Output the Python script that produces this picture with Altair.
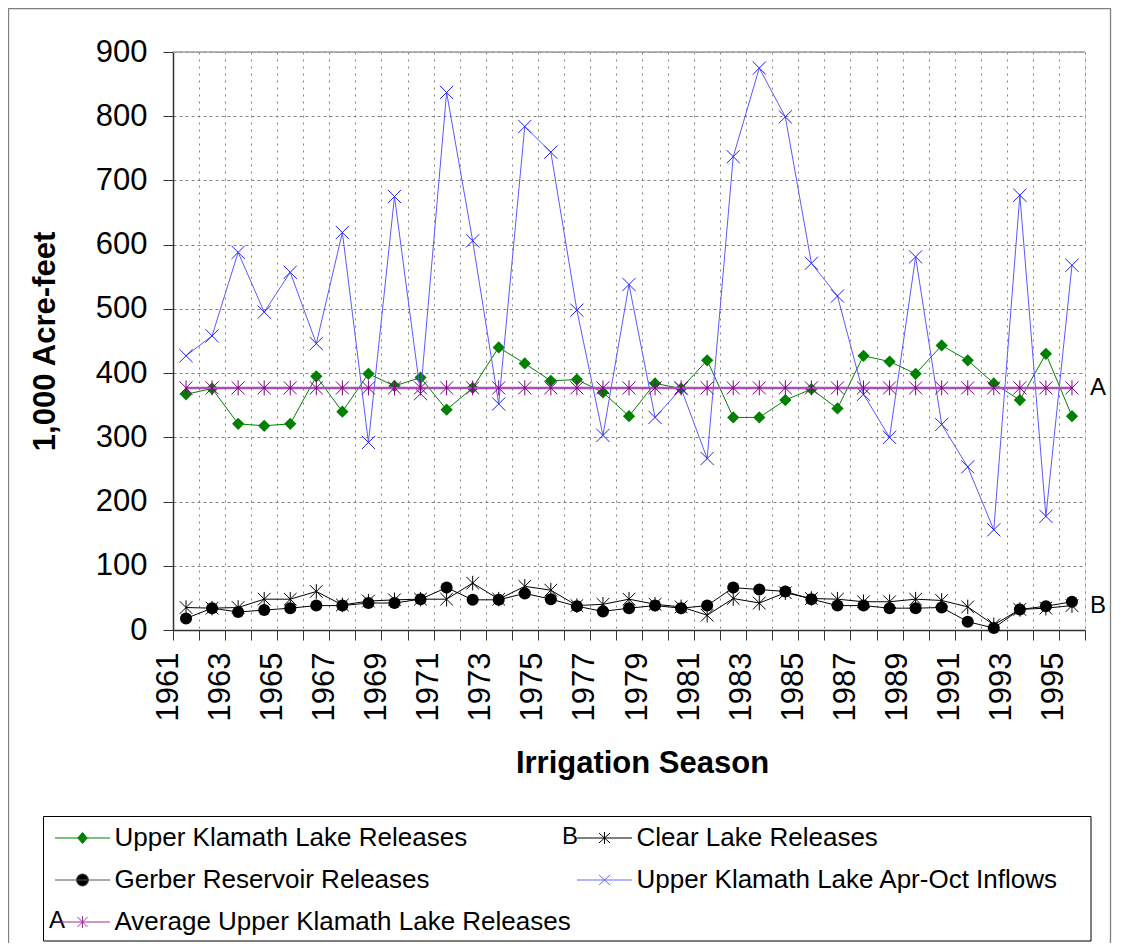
import altair as alt
import pandas as pd

# ---------------- data ----------------
seasons = [1961, 1962, 1963, 1964, 1965, 1966, 1967, 1968, 1969, 1970,
           1971, 1972, 1973, 1974, 1975, 1976, 1977, 1978, 1979, 1980,
           1981, 1982, 1983, 1984, 1985, 1986, 1987, 1988, 1989, 1990,
           1991, 1992, 1993, 1994, 1995]

ukl_releases = [367, 376, 321, 318, 321, 395, 340, 399, 380, 393,
                343, 377, 440, 415, 388, 390, 370, 333, 384, 376,
                420, 331, 331, 358, 375, 345, 427, 418, 399, 443,
                420, 384, 358, 430, 333]

clear_lake = [35, 34, 35, 48, 48, 60, 39, 45, 47, 48,
              48, 73, 48, 68, 62, 38, 40, 48, 40, 36,
              23, 49, 42, 58, 49, 48, 44, 44, 48, 46,
              36, 8, 32, 34, 38]

gerber = [18, 34, 28, 31, 34, 38, 38, 42, 42, 48,
          66, 47, 47, 57, 48, 37, 29, 34, 38, 34,
          38, 66, 63, 60, 48, 38, 38, 34, 34, 35,
          13, 3, 32, 37, 44]

ukl_inflows = [427, 458, 588, 495, 557, 446, 619, 292, 675, 368,
               837, 606, 352, 784, 744, 498, 303, 538, 331, 376,
               267, 737, 875, 799, 571, 520, 367, 300, 581, 320,
               254, 156, 677, 177, 568]

avg_ukl = [377, 377, 377, 377, 377, 377, 377, 377, 377, 377,
           377, 377, 377, 377, 377, 377, 377, 377, 377, 377,
           377, 377, 377, 377, 377, 377, 377, 377, 377, 377,
           377, 377, 377, 377, 377]

series_names = ["Upper Klamath Lake Releases",
                "Clear Lake Releases",
                "Gerber Reservoir Releases",
                "Upper Klamath Lake Apr-Oct Inflows",
                "Average Upper Klamath Lake Releases"]
series_values = [ukl_releases, clear_lake, gerber, ukl_inflows, avg_ukl]
end_tags = {"Clear Lake Releases": "B", "Average Upper Klamath Lake Releases": "A"}

y_ticks = [0, 100, 200, 300, 400, 500, 600, 700, 800, 900]
x_label_years = [1961, 1963, 1965, 1967, 1969, 1971, 1973, 1975, 1977, 1979,
                 1981, 1983, 1985, 1987, 1989, 1991, 1993, 1995]
x_tick_years = list(range(1961, 1997))

rows = []
for name, vals in zip(series_names, series_values):
    for s, v in zip(seasons, vals):
        rows.append({"season": s, "value": v, "series": name,
                     "tag": end_tags.get(name, "")})
df = pd.DataFrame(rows)

# ---------------- styling ----------------
FONT = "Liberation Sans"
W, H = 912, 578

line_color = {"Upper Klamath Lake Releases": "#008000",
              "Clear Lake Releases": "#000000",
              "Gerber Reservoir Releases": "#000000",
              "Upper Klamath Lake Apr-Oct Inflows": "#5a5aff",
              "Average Upper Klamath Lake Releases": "#a850b8"}
line_width = {"Upper Klamath Lake Releases": 1,
              "Clear Lake Releases": 1,
              "Gerber Reservoir Releases": 1,
              "Upper Klamath Lake Apr-Oct Inflows": 1,
              "Average Upper Klamath Lake Releases": 2.5}

X_PATH = "M-1,-1L1,1M-1,1L1,-1"
AST_PATH = "M-1,-1L1,1M-1,1L1,-1M0,-1.15L0,1.15"

marker = {
    "Upper Klamath Lake Releases": dict(shape="diamond", filled=True, color="#008000", size=150),
    "Clear Lake Releases": dict(shape=AST_PATH, filled=False, color="#000000", size=160),
    "Gerber Reservoir Releases": dict(shape="circle", filled=True, color="#000000", size=145),
    "Upper Klamath Lake Apr-Oct Inflows": dict(shape=X_PATH, filled=False, color="#2020ff", size=175),
    "Average Upper Klamath Lake Releases": dict(shape=AST_PATH, filled=False, color="#800080", size=170),
}

legend_paths = [
    "M-2.75,0H2.75M0,-0.55L0.47,0L0,0.55L-0.47,0Z",
    "M-2.75,0H2.75M-0.55,-0.5L0.55,0.5M-0.55,0.5L0.55,-0.5M0,-0.6L0,0.6",
    "M-2.75,0H2.75M-0.6,0A0.6,0.6,0,1,0,0.6,0A0.6,0.6,0,1,0,-0.6,0Z",
    "M-2.75,0H2.75M-0.55,-0.5L0.55,0.5M-0.55,0.5L0.55,-0.5",
    "M-2.75,0H2.75M-0.5,-0.5L0.5,0.5M-0.5,0.5L0.5,-0.5M0,-0.6L0,0.6",
]
legend_fill = ["#008000", "#000000", "#000000", "#2020ff", "#800080"]
legend_stroke = ["#008000", "#000000", "#555555", "#6666ff", "#993399"]

x_scale = alt.Scale(domain=[1961, 1996], nice=False, zero=False)
y_scale = alt.Scale(domain=[0, 900], nice=False, zero=True)

label_expr = "indexof(" + str(x_label_years) + ", datum.value) >= 0 ? '' + datum.value : ''"

x_axis = alt.Axis(values=x_tick_years, labelExpr=label_expr,
                  title="Irrigation Season", titleFont=FONT, titleFontSize=31,
                  titleFontWeight="bold", titleColor="black",
                  titleX=469, titleY=133, titleAlign="center", titleBaseline="middle",
                  titleAngle=0,
                  labelAngle=270, labelAlign="right", labelBaseline="middle",
                  labelFont=FONT, labelFontSize=31, labelColor="black",
                  labelPadding=12, labelOffset=-5, labelOverlap=False, labelFlush=False,
                  tickSize=10, tickColor="#333333", tickWidth=1,
                  domainColor="#333333", domainWidth=1.5,
                  grid=True, gridColor="#808080", gridDash=[2, 5], gridWidth=1)

y_axis = alt.Axis(values=y_ticks, format="d",
                  title="1,000 Acre-feet", titleFont=FONT, titleFontSize=31,
                  titleFontWeight="bold", titleColor="black",
                  titleX=-128, titleY=289, titleAngle=270, titleAlign="center",
                  titleBaseline="middle",
                  labelFont=FONT, labelFontSize=31, labelColor="black", labelPadding=16,
                  tickSize=10, tickColor="#333333", tickWidth=1,
                  domainColor="#333333", domainWidth=1.5,
                  grid=True, gridColor="#808080", gridDash=[3, 3], gridWidth=1)

x_enc = alt.X("xpos:Q", scale=x_scale, axis=x_axis)
y_enc = alt.Y("value:Q", scale=y_scale, axis=y_axis)

base = alt.Chart(df).transform_calculate(xpos="datum.season + 0.5")

layers = []

# outer chart frame and legend box (decoration)
frame = alt.Chart(pd.DataFrame({"k": [0]})).mark_rect(
    filled=False, stroke="#808080", strokeWidth=1.3
).encode(x=alt.value(-164.5), x2=alt.value(937.5), y=alt.value(-43.5), y2=alt.value(905))
legend_box = alt.Chart(pd.DataFrame({"k": [0]})).mark_rect(
    filled=False, stroke="#000000", strokeWidth=1
).encode(x=alt.value(-129.5), x2=alt.value(918), y=alt.value(764.5), y2=alt.value(889))
layers += [frame, legend_box]

top_rule = alt.Chart(pd.DataFrame({"k": [0]})).mark_rule(
    color="#a0a0a0", strokeWidth=1.5
).encode(y=alt.datum(900, scale=y_scale))
layers.append(top_rule)

for name in series_names:
    sub = base.transform_filter(alt.datum.series == name)
    layers.append(sub.mark_line(color=line_color[name], strokeWidth=line_width[name])
                  .encode(x=x_enc, y=y_enc))
    m = marker[name]
    layers.append(sub.mark_point(shape=m["shape"], filled=m["filled"], color=m["color"],
                                 size=m["size"], strokeWidth=1, opacity=1)
                  .encode(x=x_enc, y=y_enc))

# end-of-series data labels A / B
layers.append(base.transform_filter("datum.tag != '' && datum.season == 1995")
              .mark_text(align="left", baseline="middle", dx=18, font=FONT,
                         fontSize=24, color="black")
              .encode(x=x_enc, y=y_enc, text="tag:N"))

# legend (symbols built from custom paths), filled row by row
leg = alt.Legend(title=None, orient="none", legendX=-121, legendY=773, columns=2,
                 direction="horizontal",
                 symbolSize=400, symbolOffset=17.5, labelOffset=19,
                 labelFont=FONT, labelFontSize=26, labelColor="black", labelLimit=1000,
                 rowPadding=16, columnPadding=3, symbolStrokeWidth=1, symbolOpacity=1,
                 padding=0)
layers.append(base.transform_filter("false")
              .mark_point(filled=True, opacity=1, strokeWidth=1)
              .encode(x=x_enc, y=y_enc,
                      color=alt.Color("series:N", scale=alt.Scale(domain=series_names, range=legend_fill), legend=leg),
                      stroke=alt.Stroke("series:N", scale=alt.Scale(domain=series_names, range=legend_stroke), legend=leg),
                      shape=alt.Shape("series:N", scale=alt.Scale(domain=series_names, range=legend_paths), legend=leg)))

# legend key prefixes
prefix_df = pd.DataFrame({"k": [0]})
layers.append(alt.Chart(prefix_df).mark_text(text="B", align="left", baseline="middle",
                                             font=FONT, fontSize=24, color="black")
              .encode(x=alt.value(389), y=alt.value(785)))
layers.append(alt.Chart(prefix_df).mark_text(text="A", align="left", baseline="middle",
                                             font=FONT, fontSize=24, color="black")
              .encode(x=alt.value(-124), y=alt.value(869)))

chart = alt.layer(*layers).properties(
    width=W, height=H,
    padding={"left": 165, "top": 44, "right": 27, "bottom": 313},
    autosize=alt.AutoSizeParams(type="none"),
    background="white",
).configure_view(strokeWidth=0).configure(font=FONT)

chart.save("out.html", embed_options={"renderer": "svg", "actions": False})
